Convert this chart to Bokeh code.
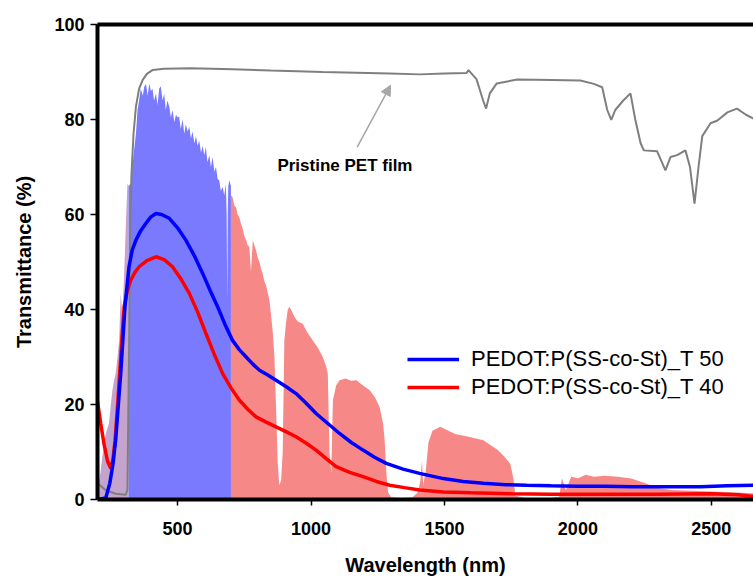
from bokeh.plotting import figure
from bokeh.models import (Range1d, LinearAxis, FixedTicker, Legend, LegendItem,
                          Label, Arrow, NormalHead)
from bokeh.embed import file_html
from bokeh.resources import INLINE

# ---------------- data ----------------
pet_wl = [200, 230, 268, 306, 312, 318, 322, 327, 335, 344, 356, 369, 385, 406, 450, 550,
          706, 850, 1044, 1295, 1407, 1500, 1583, 1590, 1620, 1645, 1656, 1670, 1696, 1772,
          1900, 2009, 2060, 2091, 2110, 2125, 2140, 2170, 2197, 2215, 2235, 2247, 2297,
          2328, 2347, 2372, 2403, 2420, 2437, 2452, 2466, 2497, 2523, 2560, 2596, 2630, 2658]
pet_t = [3.4, 2.0, 1.2, 1.0, 2.0, 30.0, 55.0, 68.0, 77.0, 82.7, 86.5, 88.3, 89.6, 90.4, 90.7, 90.8,
         90.6, 90.3, 90.0, 89.7, 89.5, 89.7, 89.8, 90.4, 88.5, 84.0, 82.3, 85.5, 87.6, 88.4,
         88.3, 88.2, 87.5, 86.8, 82.0, 79.9, 82.0, 84.0, 85.5, 80.0, 75.0, 73.5, 73.3,
         69.3, 72.1, 72.5, 73.5, 70.0, 62.3, 70.0, 76.5, 79.2, 79.8, 81.5, 82.3, 81.0, 80.2]

t50_wl = [200, 231, 246, 258, 268, 287, 303, 318, 330, 344, 362, 381, 400, 419, 440, 469, 500,
          531, 563, 594, 622, 650, 678, 706, 732, 757, 782, 807, 838, 869, 906, 944, 981, 1019,
          1063, 1107, 1151, 1195, 1238, 1282, 1345, 1407, 1496, 1570, 1646, 1730, 1809, 1900,
          1997, 2100, 2210, 2330, 2460, 2560, 2658]
t50_t = [0.0, 0.3, 3.4, 7.5, 12.5, 26.5, 40.6, 49.0, 52.5, 54.6, 56.6, 58.1, 59.5, 60.2, 60.0,
         59.2, 57.2, 54.6, 51.3, 47.6, 44.0, 40.6, 36.8, 33.5, 31.5, 30.0, 28.5, 27.2, 26.2, 25.1,
         23.8, 22.3, 20.3, 18.1, 16.0, 13.9, 12.0, 10.4, 8.9, 7.6, 6.4, 5.5, 4.4, 3.8, 3.4, 3.1,
         3.0, 2.9, 2.8, 2.8, 2.7, 2.7, 2.7, 2.9, 3.0]

t40_wl = [200, 212, 225, 238, 250, 258, 266, 275, 283, 291, 300, 312, 325, 340, 356, 385, 419,
          450, 481, 512, 544, 575, 606, 638, 669, 700, 732, 763, 794, 832, 869, 906, 944, 981,
          1019, 1057, 1094, 1145, 1195, 1245, 1295, 1350, 1407, 1496, 1600, 1750, 1900, 2100,
          2300, 2500, 2600, 2658]
t40_t = [20.6, 16.0, 11.5, 8.0, 6.5, 8.5, 12.5, 19.5, 26.5, 33.5, 40.6, 44.0, 46.2, 47.8, 49.0,
         50.3, 51.1, 50.5, 49.0, 46.5, 43.4, 39.5, 35.0, 30.5, 26.5, 23.5, 20.9, 19.0, 17.4, 16.3,
         15.3, 14.3, 13.2, 11.9, 10.4, 8.6, 6.9, 5.7, 4.8, 3.8, 3.0, 2.5, 2.0, 1.6, 1.4, 1.2,
         1.1, 1.1, 1.1, 1.2, 1.0, 0.6]

# solar spectrum (scaled) split into UV / visible / NIR bands
uv_wl = [200, 206, 212, 218, 225, 231, 237, 243, 250, 256, 262, 268, 275, 281, 287, 293, 300,
         306, 312, 316]
uv_v = [0.5, 4.0, 6.0, 9.0, 11.5, 13.9, 15.0, 16.0, 20.0, 23.0, 25.0, 26.5, 30.0, 33.5, 43.4,
        39.0, 47.6, 57.4, 66.5, 66.0]

vis_wl = [316, 325, 334, 344, 350, 356, 362, 370, 375, 382, 388, 394, 400, 406, 412, 419, 425,
          431, 437, 444, 450, 456, 462, 469, 475, 481, 488, 494, 500, 506, 512, 519, 525, 531,
          538, 544, 550, 556, 563, 569, 575, 581, 588, 594, 600, 606, 612, 619, 625, 631, 638,
          644, 650, 656, 662, 669, 675, 681, 684, 686, 688, 690, 694, 700]
vis_v = [66.0, 66.5, 72.0, 77.0, 82.0, 84.0, 86.5, 85.0, 86.9, 87.5, 85.0, 87.6, 86.0, 86.5,
         84.0, 85.5, 83.0, 86.5, 87.0, 84.0, 85.5, 82.0, 84.0, 82.7, 80.5, 82.0, 79.5, 81.0,
         80.5, 80.6, 78.0, 80.0, 77.0, 79.0, 77.5, 78.5, 76.0, 77.5, 75.0, 76.5, 74.5, 75.6,
         73.0, 74.5, 72.5, 74.2, 71.0, 72.5, 70.0, 72.1, 69.0, 70.0, 67.5, 67.2, 65.0, 65.8,
         64.0, 66.5, 60.0, 42.0, 60.0, 66.0, 67.2, 66.0]

nir_wl = [700, 706, 712, 719, 725, 731, 738, 744, 750, 757, 763, 769, 775, 782, 788, 794, 800,
          807, 813, 819, 825, 832, 838, 844, 850, 857, 863, 869, 875, 881, 888, 894, 900, 906,
          913, 919, 925, 938, 950, 969, 988, 1007, 1025, 1044, 1057, 1063, 1069, 1076, 1082,
          1094, 1107, 1130, 1150, 1170, 1195, 1220, 1240, 1257, 1270, 1276, 1283, 1289, 1300,
          1340, 1380, 1400, 1410, 1416, 1420, 1430, 1440, 1455, 1484, 1540, 1590, 1646, 1700,
          1725, 1747, 1758, 1766, 1800, 1900, 1930, 1940, 1955, 1975, 2000, 2030, 2060, 2100,
          2150, 2200, 2250, 2300, 2350, 2450, 2550, 2658]
nir_v = [64.0, 63.7, 62.0, 61.5, 60.0, 59.5, 58.0, 57.0, 55.5, 54.6, 53.5, 53.2, 48.0, 54.6,
         53.5, 52.5, 51.0, 50.0, 48.5, 47.6, 46.0, 45.0, 43.5, 42.0, 39.0, 35.0, 30.0, 19.5,
         8.0, 3.0, 4.0, 10.0, 33.5, 37.0, 40.0, 40.6, 40.0, 38.5, 37.5, 37.0, 35.0, 33.5, 32.0,
         30.0, 28.0, 26.5, 10.0, 5.5, 20.9, 24.0, 25.1, 25.5, 25.0, 25.1, 24.0, 23.0, 21.5,
         19.5, 16.0, 12.5, 5.0, 1.5, 0.5, 0.3, 0.5, 1.5, 4.0, 8.3, 3.0, 6.0, 12.0, 14.5, 15.3,
         13.8, 13.2, 12.5, 10.4, 9.0, 7.5, 4.5, 0.8, 0.3, 0.3, 0.6, 4.5, 2.0, 4.8, 4.5, 5.2,
         4.8, 5.0, 4.8, 4.4, 3.5, 2.4, 2.0, 1.8, 1.6, 1.3]

x_ticks = [500, 1000, 1500, 2000, 2500]
y_ticks = [0, 20, 40, 60, 80, 100]
series_labels = ["PEDOT:P(SS-co-St)_T 50", "PEDOT:P(SS-co-St)_T 40"]

FONT = "Liberation Sans"

p = figure(width=753, height=581, output_backend="svg", toolbar_location=None,
           x_range=Range1d(200, 2658), y_range=Range1d(0, 100),
           min_border_left=97, min_border_right=0, min_border_top=24, min_border_bottom=82,
           outline_line_color=None, background_fill_color="white")
p.xgrid.visible = False
p.ygrid.visible = False

# spectrum fills
p.varea(x=uv_wl, y1=0, y2=uv_v, fill_color="#c4a3cc", fill_alpha=1.0)
p.varea(x=vis_wl, y1=0, y2=vis_v, fill_color="#7a7aff", fill_alpha=1.0)
p.varea(x=nir_wl, y1=0, y2=nir_v, fill_color="#f78888", fill_alpha=1.0)

# PET film
p.line(pet_wl, pet_t, line_color="#7f7f7f", line_width=2)

r40 = p.line(t40_wl, t40_t, line_color="#ff0000", line_width=3.5)
r50 = p.line(t50_wl, t50_t, line_color="#0000ff", line_width=3.5)

# axes
for ax in (p.xaxis[0], p.yaxis[0]):
    ax.axis_line_width = 4
    ax.axis_line_color = "black"
    ax.major_tick_in = 0
    ax.major_tick_line_width = 1.5
    ax.major_tick_line_color = "black"
    ax.minor_tick_line_color = None
    ax.major_label_text_font = FONT
    ax.major_label_text_font_style = "bold"
    ax.major_label_text_font_size = "18px"
    ax.major_label_text_color = "black"
    ax.axis_label_text_font = FONT
    ax.axis_label_text_font_style = "bold"
    ax.axis_label_text_font_size = "20px"
    ax.axis_label_text_color = "black"

p.xaxis[0].ticker = FixedTicker(ticks=x_ticks)
p.yaxis[0].ticker = FixedTicker(ticks=y_ticks)
p.xaxis[0].major_tick_out = 6
p.yaxis[0].major_tick_out = 7
p.xaxis[0].major_label_standoff = 16
p.yaxis[0].major_label_standoff = 6
p.xaxis[0].axis_label = "Wavelength (nm)"
p.yaxis[0].axis_label = "Transmittance (%)"
p.xaxis[0].axis_label_standoff = 16
p.yaxis[0].axis_label_standoff = 16

top = LinearAxis(ticker=FixedTicker(ticks=[]), axis_line_width=4, axis_line_color="black",
                 major_tick_line_color=None, minor_tick_line_color=None,
                 major_label_text_font_size="0px")
p.add_layout(top, "above")

legend = Legend(items=[LegendItem(label=series_labels[0], renderers=[r50]),
                       LegendItem(label=series_labels[1], renderers=[r40])],
                location=(310, 98), border_line_color=None, background_fill_alpha=0,
                padding=0, margin=0, spacing=0, glyph_width=52, glyph_height=28,
                label_height=28, label_standoff=12,
                label_text_font=FONT, label_text_font_size="22px", label_text_color="black")
p.add_layout(legend, "center")

p.add_layout(Label(x=874, y=70.4, text="Pristine PET film", text_font=FONT,
                   text_font_style="bold", text_font_size="17px", text_baseline="middle",
                   text_color="black"))
p.add_layout(Arrow(x_start=1173, y_start=74.2, x_end=1298, y_end=87.2,
                   line_color="#a6a6a6", line_width=1.5,
                   end=NormalHead(size=10, fill_color="#a6a6a6", line_color="#a6a6a6")))

open("out.html", "w").write(file_html(p, INLINE))
